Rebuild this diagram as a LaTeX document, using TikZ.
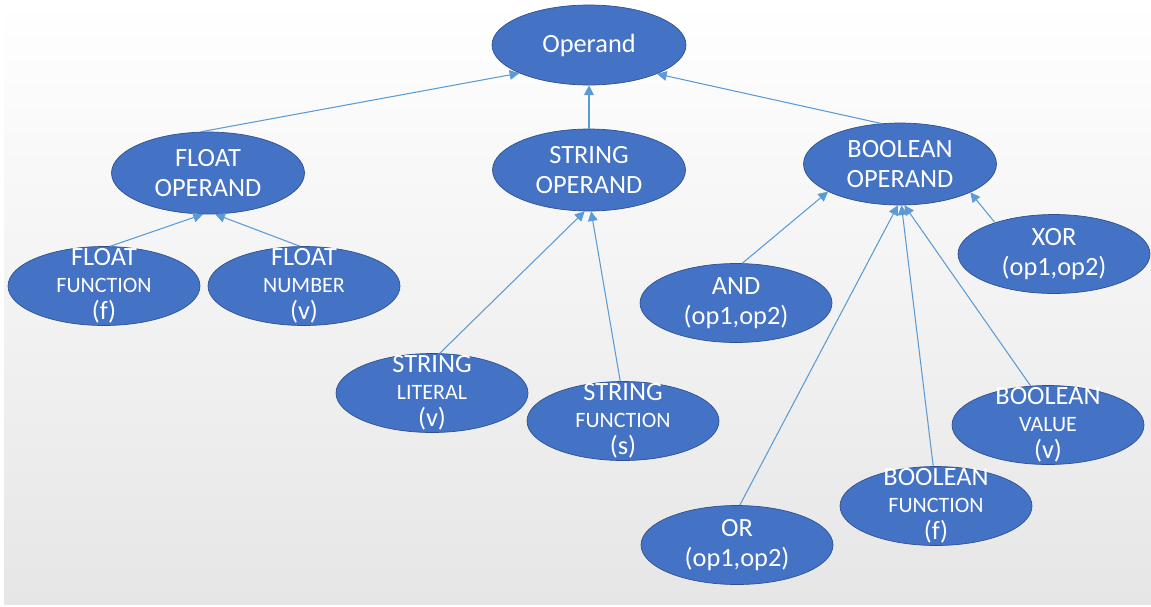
\documentclass[tikz,border=0pt]{standalone}
\usepackage{fontspec}
\setmainfont{Carlito}
\usepackage{xcolor}
\usetikzlibrary{arrows.meta,shapes.geometric}
\definecolor{opblue}{HTML}{4472C4}
\definecolor{opline}{HTML}{2F528F}
\definecolor{linkblue}{HTML}{5B9BD5}
\definecolor{bgbottom}{HTML}{E6E6E6}
\newcommand{\midline}[1]{{\fontsize{12.5}{15.5}\selectfont #1}}

\begin{document}
\begin{tikzpicture}[x=0.02cm, y=-0.02cm, >={Triangle[length=5.5pt,width=5.5pt]},
  op/.style={ellipse, draw=opline, line width=0.4pt, fill=opblue, inner sep=0pt, minimum width=3.86cm, minimum height=1.64cm},
  leaf/.style={op, minimum width=3.84cm, minimum height=1.58cm},
  lbl/.style={text=white, align=center, inner sep=0pt, font=\fontsize{15}{17}\selectfont},
  leaflbl/.style={lbl, font=\fontsize{15}{15.5}\selectfont},
  every edge/.style={draw=linkblue, line width=0.6pt, ->}]
\useasboundingbox (0,0) rectangle (1151,606);
\fill[top color=white, bottom color=bgbottom] (4,0) rectangle (1151,604);

% ellipses
\node[op, minimum width=3.88cm, minimum height=1.6cm] (op) at (589,45) {};
\node[op] (fo) at (208,173) {};
\node[op] (so) at (589,170) {};
\node[op] (bo) at (900,164) {};
\node[leaf] (ff) at (104,286) {};
\node[leaf] (fn) at (304,286) {};
\node[leaf] (sl) at (432,393) {};
\node[leaf] (sf) at (623,421) {};
\node[leaf] (and) at (736,303) {};
\node[leaf] (xor) at (1054,254) {};
\node[leaf] (or) at (737,545) {};
\node[leaf] (bf) at (936,506) {};
\node[leaf] (bv) at (1048,425) {};

% texts
\node[lbl] (op-t) at (op) {Operand};
\node[lbl] (fo-t) at (fo) {FLOAT\\OPERAND};
\node[lbl] (so-t) at (so) {STRING\\OPERAND};
\node[lbl] (bo-t) at (bo) {BOOLEAN\\OPERAND};
\node[leaflbl] (ff-t) at (ff) {FLOAT\\\midline{FUNCTION}\\(f)};
\node[leaflbl] (fn-t) at (fn) {FLOAT\\\midline{NUMBER}\\(v)};
\node[leaflbl] (sl-t) at (sl) {STRING\\\midline{LITERAL}\\(v)};
\node[leaflbl] (sf-t) at (sf) {STRING\\\midline{FUNCTION}\\(s)};
\node[lbl] (and-t) at (and) {AND\\(op1,op2)};
\node[lbl] (xor-t) at (xor) {XOR\\(op1,op2)};
\node[lbl] (or-t) at (or) {OR\\(op1,op2)};
\node[leaflbl] (bf-t) at (bf) {BOOLEAN\\\midline{FUNCTION}\\(f)};
\node[leaflbl] (bv-t) at (bv) {BOOLEAN\\\midline{VALUE}\\(v)};

\path
(fo.100) edge (op.-158)
(so.north) edge (op.south)
(bo.115) edge (op.-23)

(ff.81) edge (fo.-97)
(fn.96) edge (fo.-80)

(sl.79) edge (so.-96)
(sf.94) edge (so.-87)

(and.81) edge (bo.-159)
(xor.152) edge (bo.-22)
(or.86) edge (bo.-93)
(bf.94) edge (bo.-88)
(bv.114) edge (bo.-84);
\end{tikzpicture}
\end{document}
